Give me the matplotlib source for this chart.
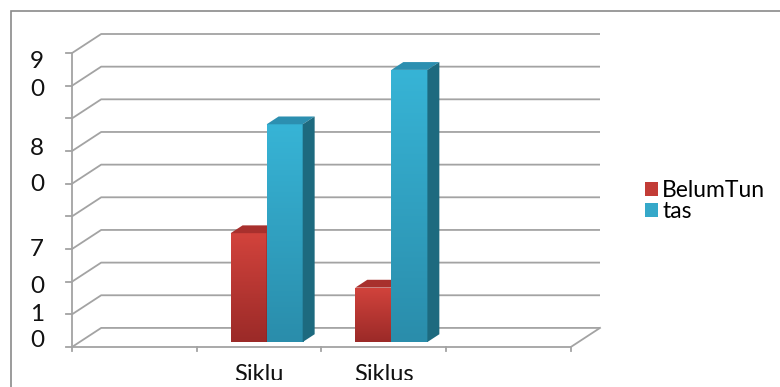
import numpy as np
import matplotlib
matplotlib.use("Agg")
import matplotlib.pyplot as plt
from matplotlib.patches import Polygon, Rectangle, Patch
from matplotlib.colors import LinearSegmentedColormap
from matplotlib import transforms

plt.rcParams['font.family'] = ['Lato', 'DejaVu Sans']

# data
categories = ["", "Siklu", "Siklus", ""]
series_names = ["BelumTun", "tas"]
belum_tuntas = [np.nan, 33.33, 16.67, np.nan]
tuntas = [np.nan, 66.67, 83.33, np.nan]
y_ticks = [0, 10, 20, 30, 40, 50, 60, 70, 80, 90]
# the value labels are broken over lines in the original, only these bits show
y_label_bits = ["9", "0", "8", "0", "7", "0", "1", "0"]
y_label_at = [87.3, 78.8, 60.9, 49.9, 29.9, 18.6, 10.0, 2.0]

# styles
front_cols = [("#d2433c", "#9b2a28"), ("#37b4d6", "#2a8dab")]
side_cols = ["#7e2220", "#1d6a7f"]
top_cols = ["#a8302d", "#2c8fb0"]
legend_cols = ["#c23c36", "#35a8c9"]
grid_col = "#a3a3a3"

DX, DY = 0.234, 5.84      # depth of the floor in data units
F0 = 0.26                 # where the bars sit in depth
BD = 0.41                 # bar depth
BAR_W = 0.289

fig = plt.figure(figsize=(7.8, 3.87), dpi=100)
ax = fig.add_axes([72 / 780, 40 / 387, 528 / 780, 313 / 387])
ax.axis("off")
n = len(categories)

# back wall gridlines with the little diagonals
for v in y_ticks:
    ax.plot([0, DX, n + DX], [v, v + DY, v + DY], color=grid_col, lw=1.3,
             zorder=1, clip_on=False, solid_capstyle="butt")
    ax.plot([-0.048, 0], [v, v], color=grid_col, lw=1.3, clip_on=False)
# floor front edge + value axis
ax.plot([0, n, n + DX], [0, 0, DY], color=grid_col, lw=1.3, zorder=1, clip_on=False)
ax.plot([0, 0], [0, y_ticks[-1]], color=grid_col, lw=1.3, zorder=1, clip_on=False)
for i in range(n + 1):
    ax.plot([i, i], [0, -1.3], color=grid_col, lw=1.3, clip_on=False)

yt = transforms.blended_transform_factory(ax.transAxes, ax.transData)
for s, yv in zip(y_label_bits, y_label_at):
    ax.text(-0.053, yv, s, transform=yt, ha="right", va="center", fontsize=17.5, color="#111111")

# category labels are cut off at the bottom in the source
label_clip = Rectangle((0, 7 / 387), 1, 1, transform=fig.transFigure)
for i, c in enumerate(categories):
    if c:
        t = ax.annotate(c, (i + 0.5, 0), xytext=(0, -12.5), textcoords="offset points",
                        ha="center", va="top", fontsize=17, color="#111111", annotation_clip=False)
        t.set_clip_path(label_clip)

# 3d-ish bars
for s, vals in enumerate([belum_tuntas, tuntas]):
    cmap = LinearSegmentedColormap.from_list("g%d" % s, [front_cols[s][1], front_cols[s][0]])
    for i, v in enumerate(vals):
        if np.isnan(v):
            continue
        x0 = i + 0.5 - BAR_W + s * BAR_W + F0 * DX
        b = F0 * DY
        bar = ax.bar(x0, v, width=BAR_W, bottom=b, align="edge", color=front_cols[s][0],
                     zorder=3 + 2 * s + i * 10, linewidth=0)[0]
        grad = np.linspace(0, 1, 100).reshape(-1, 1)
        im = ax.imshow(grad, extent=[x0, x0 + BAR_W, b, b + v], origin="lower",
                       aspect="auto", cmap=cmap, zorder=3 + 2 * s + i * 10)
        im.set_clip_path(bar)
        ddx, ddy = BD * DX, BD * DY
        top = Polygon([(x0, b + v), (x0 + BAR_W, b + v), (x0 + BAR_W + ddx, b + v + ddy),
                       (x0 + ddx, b + v + ddy)], closed=True, facecolor=top_cols[s],
                      edgecolor="none", zorder=3 + 2 * s + i * 10)
        side = Polygon([(x0 + BAR_W, b), (x0 + BAR_W + ddx, b + ddy),
                        (x0 + BAR_W + ddx, b + v + ddy), (x0 + BAR_W, b + v)], closed=True,
                       facecolor=side_cols[s], edgecolor="none", zorder=3 + 2 * s + i * 10)
        ax.add_patch(top)
        ax.add_patch(side)

ax.set_xlim(0, n + DX)
ax.set_ylim(0, y_ticks[-1] + DY)

handles = [Patch(facecolor=legend_cols[k], edgecolor="none") for k in range(2)]
fig.legend(handles, series_names, loc="upper left", bbox_to_anchor=(636 / 780, 1 - 171 / 387),
           frameon=False, fontsize=16.5, handlelength=0.55, handleheight=0.55,
           handletextpad=0.2, labelspacing=0.0, borderaxespad=0)

# outer chart border, cut off at right and bottom like the source
fig.add_artist(Rectangle((11 / 780, -0.2), 1.5, 1.2 - 11 / 387, transform=fig.transFigure,
                         fill=False, edgecolor="#8a8a8a", lw=1.2))

fig.savefig("out.png", dpi=100)
